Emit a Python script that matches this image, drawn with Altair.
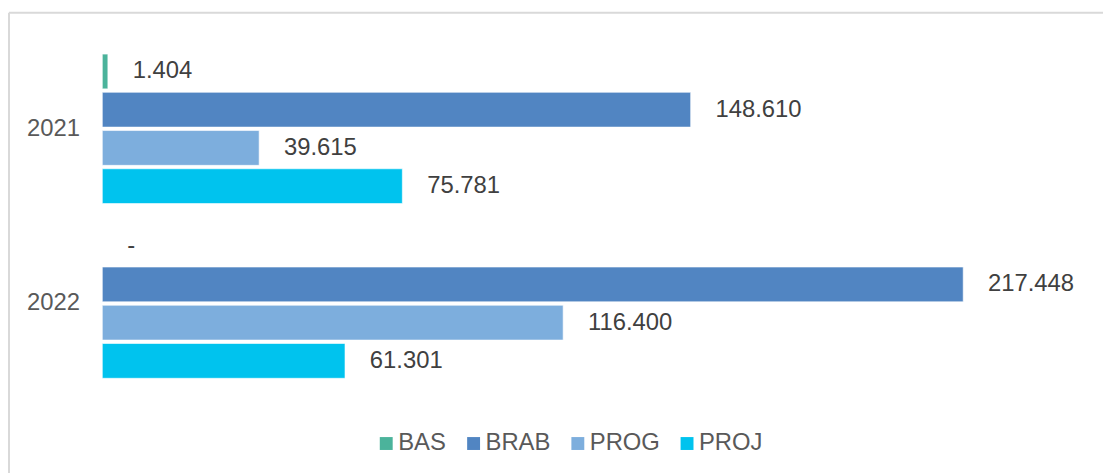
import altair as alt
import pandas as pd

years = ["2021", "2021", "2021", "2021", "2022", "2022", "2022", "2022"]
series = ["BAS", "BRAB", "PROG", "PROJ", "BAS", "BRAB", "PROG", "PROJ"]
values = [1404, 148610, 39615, 75781, 0, 217448, 116400, 61301]

series_order = ["BAS", "BRAB", "PROG", "PROJ"]
series_colors = ["#4BB39B", "#5185C2", "#7DAEDD", "#00C3EE"]

df = pd.DataFrame({"year": years, "series": series, "value": values})

FONT = "Liberation Sans"
FS = 24

y_enc = alt.Y("year:N", title=None,
              scale=alt.Scale(paddingInner=0, paddingOuter=0),
              axis=alt.Axis(domain=False, ticks=False, grid=False, labelPadding=23,
                            labelFontSize=FS, labelColor="#595959",
                            labelFont=FONT))
yoff_enc = alt.YOffset("series:N", sort=series_order,
                       scale=alt.Scale(paddingInner=0.09, paddingOuter=0.33))
x_enc = alt.X("value:Q", title=None,
              scale=alt.Scale(domain=[0, 250000], nice=False, zero=True),
              axis=None)

base = alt.Chart(df)

bars = base.transform_filter("datum.value > 0").mark_bar(
    stroke="white", strokeWidth=1, strokeOpacity=0.6).encode(
    x=x_enc,
    y=y_enc,
    yOffset=yoff_enc,
    color=alt.Color("series:N", sort=series_order,
                    scale=alt.Scale(domain=series_order, range=series_colors),
                    legend=alt.Legend(title=None, orient="none",
                                      direction="horizontal",
                                      legendX=274, legendY=393,
                                      symbolType="square", symbolSize=169,
                                      symbolStrokeWidth=0,
                                      labelFontSize=FS, labelColor="#595959",
                                      labelFont=FONT, labelOffset=0,
                                      columnPadding=15, padding=0)),
)

labels = base.transform_calculate(
    lab="datum.value == 0 ? '-' : replace(format(datum.value, ','), ',', '.')"
).mark_text(align="left", baseline="middle", dx=25, fontSize=FS,
            font=FONT, color="#404040").encode(
    x=x_enc,
    y=y_enc,
    yOffset=yoff_enc,
    text="lab:N",
)

one = pd.DataFrame({"a": [0]})
frame_top = alt.Chart(one).mark_rule(color="#D9D9D9", strokeWidth=2).encode(
    x=alt.value(-94), x2=alt.value(1300), y=alt.value(-29))
frame_left = alt.Chart(one).mark_rule(color="#D9D9D9", strokeWidth=2).encode(
    x=alt.value(-94), y=alt.value(-29), y2=alt.value(700))

chart = alt.layer(frame_top, frame_left, bars, labels).properties(
    width=997, height=352,
    background="white",
    padding={"left": 95, "top": 32, "right": 11, "bottom": 81},
    autosize=alt.AutoSizeParams(type="none"),
).configure_view(strokeWidth=0, stroke="transparent")

chart.save("out.html", embed_options={"renderer": "svg", "actions": False})
